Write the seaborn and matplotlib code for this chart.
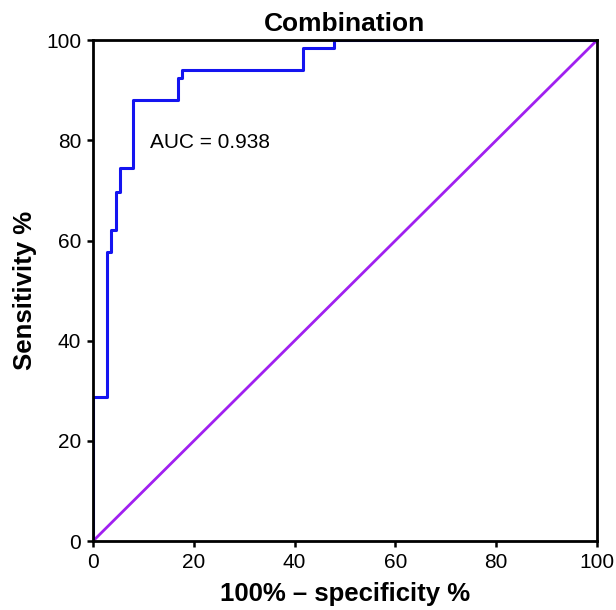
import matplotlib
matplotlib.use("Agg")
import matplotlib.pyplot as plt
import seaborn as sns
import pandas as pd

# ROC curve (100% - specificity vs sensitivity)
fpr = [0, 0, 2.7, 3.6, 4.5, 5.4, 8.0, 16.8, 17.7, 41.6, 47.8, 100]
tpr = [0, 28.8, 57.7, 62.2, 69.7, 74.4, 88.0, 92.5, 94.0, 98.5, 100, 100]
diag_x = [0, 100]
diag_y = [0, 100]
ticks = [0, 20, 40, 60, 80, 100]
auc_label = "AUC = 0.938"

sns.set_style("white")
plt.rcParams["font.family"] = ["Liberation Sans", "DejaVu Sans"]
plt.rcParams["text.color"] = "black"
plt.rcParams["axes.labelcolor"] = "black"

roc = pd.DataFrame({"fpr": fpr, "tpr": tpr})
ref = pd.DataFrame({"x": diag_x, "y": diag_y})

fig = plt.figure(figsize=(6.16, 6.10), dpi=100)
ax = fig.add_axes([0.151, 0.113, 0.818, 0.821])

# chance line
sns.lineplot(data=ref, x="x", y="y", color="#A020F0", linewidth=2,
             estimator=None, sort=False, ax=ax)
# ROC step curve
sns.lineplot(data=roc, x="fpr", y="tpr", color="#1414F0", linewidth=2.2,
             estimator=None, sort=False, drawstyle="steps-post", ax=ax)

ax.set_xlim(0, 100)
ax.set_ylim(0, 100)
ax.set_xticks(ticks)
ax.set_yticks(ticks)
ax.tick_params(direction="out", length=4, width=1.8, pad=4.5, labelsize=15,
               left=True, bottom=True, colors="black")
for s in ax.spines.values():
    s.set_linewidth(2)
    s.set_color("black")

ax.text(11.3, 79.6, auc_label, fontsize=15, va="center", ha="left")

ax.set_title("Combination", fontsize=19, fontweight="bold", pad=7)
ax.set_xlabel("100% \u2013 specificity %", fontsize=18.5, fontweight="bold", labelpad=7)
ax.set_ylabel("Sensitivity %", fontsize=18.5, fontweight="bold", labelpad=6.5)

fig.savefig("out.png", dpi=100)
